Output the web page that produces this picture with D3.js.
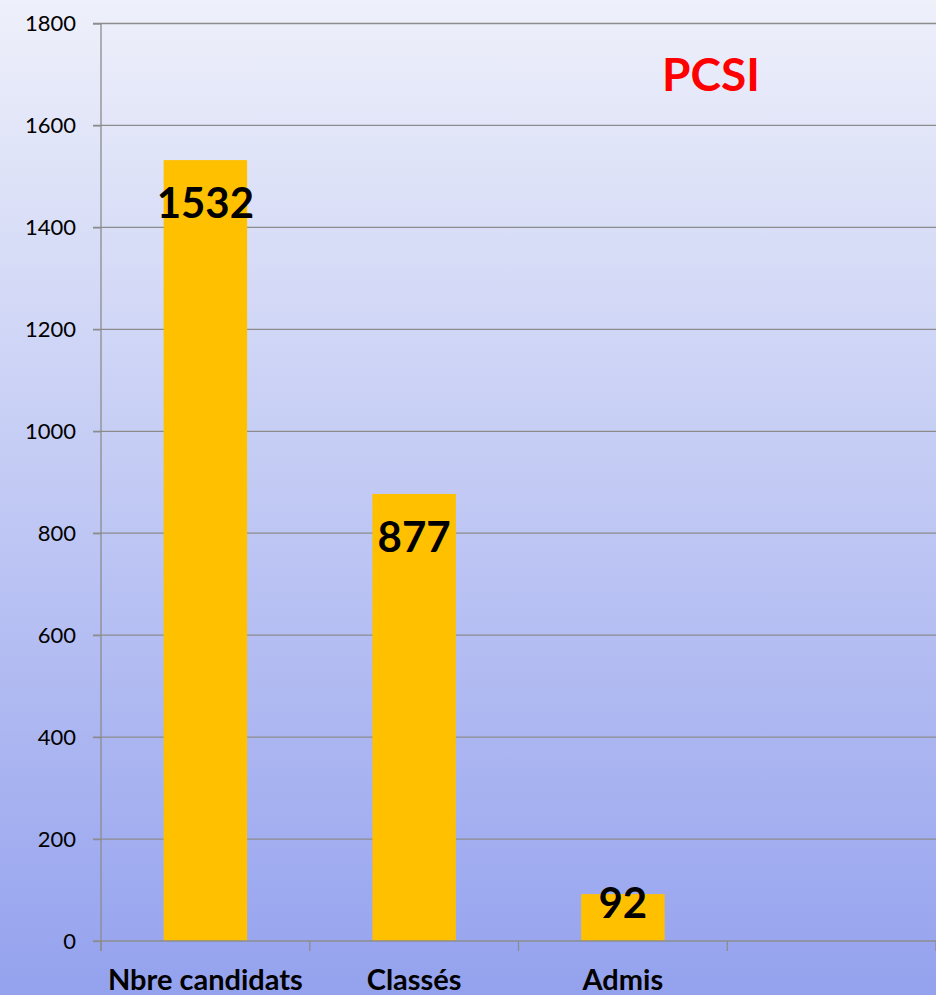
<!DOCTYPE html>
<meta charset="utf-8">
<style>
  body { margin: 0; overflow: hidden; }
  svg { display: block; }
  .tick text { font-family: Lato, "Noto Sans", sans-serif; }
</style>
<body>
<script src="https://cdn.jsdelivr.net/npm/d3@7"></script>
<script>
  'use strict';

  const categories = ["Nbre candidats", "Classés", "Admis", ""];
  const values = [1532, 877, 92, null];
  const yTicks = [0, 200, 400, 600, 800, 1000, 1200, 1400, 1600, 1800];
  const title = "PCSI";

  const W = 936, H = 995,
        margin = {top: 23.5, right: 0, bottom: 54, left: 101};

  const svg = d3.select("body").append("svg")
      .attr("width", W).attr("height", H);

  const grad = svg.append("defs").append("linearGradient")
      .attr("id", "bg").attr("x1", 0).attr("y1", 0).attr("x2", 0).attr("y2", 1);
  grad.append("stop").attr("offset", "0%").attr("stop-color", "#eef0fa");
  grad.append("stop").attr("offset", "100%").attr("stop-color", "#94a2ee");

  svg.append("rect").attr("width", W).attr("height", H).attr("fill", "url(#bg)");

  const x = d3.scaleBand()
      .domain(d3.range(categories.length))
      .range([margin.left, W - margin.right])
      .paddingInner(0.6).paddingOuter(0.3);

  const y = d3.scaleLinear()
      .domain([0, 1800])
      .range([941, margin.top]);

  // gridlines
  svg.append("g")
    .selectAll("line")
    .data(yTicks.slice(1))
    .join("line")
      .attr("x1", margin.left - 8).attr("x2", W)
      .attr("y1", d => y(d)).attr("y2", d => y(d))
      .attr("stroke", "#8c8c8c").attr("stroke-width", 1.3);

  // y axis
  const yAxis = svg.append("g")
      .attr("transform", `translate(${margin.left},0)`)
      .call(d3.axisLeft(y).tickValues(yTicks).tickFormat(d3.format("d"))
        .tickSize(8).tickPadding(17));
  yAxis.select(".domain").remove();
  yAxis.selectAll(".tick line").attr("stroke", "#8c8c8c").attr("stroke-width", 1.3);
  yAxis.selectAll(".tick text").attr("font-size", 22).attr("fill", "#000");
  svg.append("line")
      .attr("x1", margin.left).attr("x2", margin.left)
      .attr("y1", margin.top).attr("y2", y(0) + 10)
      .attr("stroke", "#8c8c8c").attr("stroke-width", 1.3);

  // bars
  svg.append("g")
    .selectAll("rect")
    .data(values.map((v, i) => ({v, i})).filter(d => d.v != null))
    .join("rect")
      .attr("x", d => x(d.i))
      .attr("width", x.bandwidth())
      .attr("y", d => y(d.v))
      .attr("height", d => y(0) - y(d.v))
      .attr("fill", "#ffc000");

  // x axis
  const step = x.step();
  const xEdges = d3.range(categories.length + 1).map(i => margin.left + i * step);
  svg.append("line")
      .attr("x1", margin.left - 8).attr("x2", W)
      .attr("y1", y(0)).attr("y2", y(0))
      .attr("stroke", "#8c8c8c").attr("stroke-width", 1.3);
  svg.append("g")
    .selectAll("line")
    .data(xEdges)
    .join("line")
      .attr("x1", d => d).attr("x2", d => d)
      .attr("y1", y(0)).attr("y2", y(0) + 10)
      .attr("stroke", "#8c8c8c").attr("stroke-width", 1.3);

  svg.append("g")
    .selectAll("text")
    .data(categories)
    .join("text")
      .attr("x", (d, i) => x(i) + x.bandwidth() / 2)
      .attr("y", 990)
      .attr("text-anchor", "middle")
      .attr("font-family", "Lato, 'Noto Sans', sans-serif")
      .attr("font-weight", "bold")
      .attr("font-size", 29)
      .text(d => d);

  // value labels
  svg.append("g")
    .selectAll("text")
    .data(values.map((v, i) => ({v, i})).filter(d => d.v != null))
    .join("text")
      .attr("x", d => x(d.i) + x.bandwidth() / 2)
      .attr("y", d => Math.min(y(d.v) + 58, (y(d.v) + y(0)) / 2))
      .attr("text-anchor", "middle")
      .attr("font-family", "Lato, 'Noto Sans', sans-serif")
      .attr("font-weight", "bold")
      .attr("font-size", 42)
      .text(d => d.v);

  svg.append("text")
      .attr("x", 711).attr("y", 91)
      .attr("text-anchor", "middle")
      .attr("font-family", "Lato, 'Noto Sans', sans-serif")
      .attr("font-weight", "bold")
      .attr("font-size", 46)
      .attr("fill", "#ff0000")
      .text(title);
</script>
